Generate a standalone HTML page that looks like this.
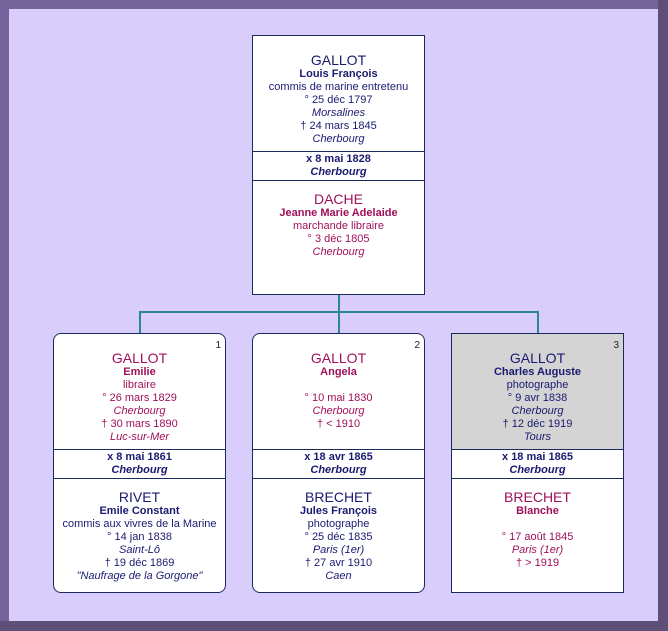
<!DOCTYPE html>
<html><head><style>
body{margin:0;width:668px;height:631px;overflow:hidden;background:#6a5a88;font-family:"Liberation Sans",Arial,sans-serif;}
#frame{position:absolute;left:0;top:0;width:668px;height:631px;background:#5e4f78;}
#lt{position:absolute;left:0;top:0;width:658px;height:621px;background:#74629a;}
#in{position:absolute;left:9px;top:9px;width:649px;height:612px;background:#d8cdfb;}
.box{position:absolute;width:171px;background:#fff;border:1px solid #1a2a5a;text-align:center;font-size:11px;line-height:13px;overflow:hidden;}
.r{border-radius:8px;}
.sec{position:absolute;left:0;right:0;}
.n{color:#1a1a70}.f{color:#a0105a}
.s{font-size:14px;line-height:16px;}
b{font-weight:bold}
i{font-style:italic}
.num{position:absolute;right:4px;top:5px;font-size:10px;color:#222;}
.ln{position:absolute;background:#2a8a8a;}
.m{top:115px;height:27px;border-top:1px solid #1a2a5a;border-bottom:1px solid #1a2a5a;padding-top:1px}
</style></head><body>
<div id="frame"></div><div id="lt"></div><div id="in"></div>
<div class="ln" style="left:338px;top:294px;width:2px;height:19px"></div>
<div class="ln" style="left:139px;top:311px;width:400px;height:2px"></div>
<div class="ln" style="left:139px;top:311px;width:2px;height:22px"></div>
<div class="ln" style="left:338px;top:311px;width:2px;height:22px"></div>
<div class="ln" style="left:537px;top:311px;width:2px;height:22px"></div>

<div class="box" style="left:252px;top:35px;height:258px">
 <div class="sec n" style="top:16px"><div class="s">GALLOT</div><b>Louis François</b><br>commis de marine entretenu<br>° 25 déc 1797<br><i>Morsalines</i><br>† 24 mars 1845<br><i>Cherbourg</i></div>
 <div class="sec n m"><b>x 8 mai 1828<br><i>Cherbourg</i></b></div>
 <div class="sec f" style="top:155px"><div class="s">DACHE</div><b>Jeanne Marie Adelaide</b><br>marchande libraire<br>° 3 déc 1805<br><i>Cherbourg</i></div>
</div>

<div class="box r" style="left:53px;top:333px;height:258px">
 <span class="num">1</span>
 <div class="sec f" style="top:16px"><div class="s">GALLOT</div><b>Emilie</b><br>libraire<br>° 26 mars 1829<br><i>Cherbourg</i><br>† 30 mars 1890<br><i>Luc-sur-Mer</i></div>
 <div class="sec n m"><b>x 8 mai 1861<br><i>Cherbourg</i></b></div>
 <div class="sec n" style="top:155px"><div class="s">RIVET</div><b>Emile Constant</b><br>commis aux vivres de la Marine<br>° 14 jan 1838<br><i>Saint-Lô</i><br>† 19 déc 1869<br><i>"Naufrage de la Gorgone"</i></div>
</div>

<div class="box r" style="left:252px;top:333px;height:258px">
 <span class="num">2</span>
 <div class="sec f" style="top:16px"><div class="s">GALLOT</div><b>Angela</b><br><br>° 10 mai 1830<br><i>Cherbourg</i><br>† &lt; 1910</div>
 <div class="sec n m"><b>x 18 avr 1865<br><i>Cherbourg</i></b></div>
 <div class="sec n" style="top:155px"><div class="s">BRECHET</div><b>Jules François</b><br>photographe<br>° 25 déc 1835<br><i>Paris (1er)</i><br>† 27 avr 1910<br><i>Caen</i></div>
</div>

<div class="box" style="left:451px;top:333px;height:258px">
 <div class="sec" style="top:0;height:115px;background:#d4d4d4"></div>
 <span class="num">3</span>
 <div class="sec n" style="top:16px"><div class="s">GALLOT</div><b>Charles Auguste</b><br>photographe<br>° 9 avr 1838<br><i>Cherbourg</i><br>† 12 déc 1919<br><i>Tours</i></div>
 <div class="sec n m"><b>x 18 mai 1865<br><i>Cherbourg</i></b></div>
 <div class="sec f" style="top:155px"><div class="s">BRECHET</div><b>Blanche</b><br><br>° 17 août 1845<br><i>Paris (1er)</i><br>† &gt; 1919</div>
</div>
</body></html>
